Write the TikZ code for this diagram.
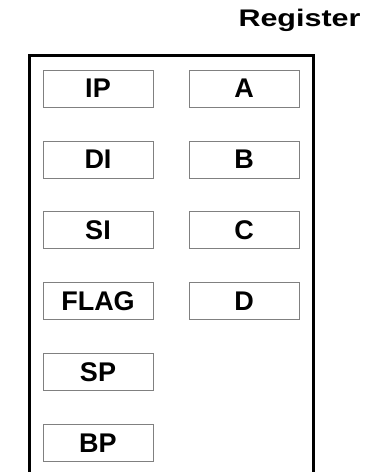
\documentclass[tikz,border=0pt]{standalone}
\usepackage{fontspec}
\setmainfont{Liberation Sans}
\usetikzlibrary{positioning}

\begin{document}
\begin{tikzpicture}[x=1pt, y=-1pt,
    reg/.style={draw=gray, line width=1pt, minimum width=110pt, minimum height=37pt,
        inner sep=0pt, font=\fontsize{27}{27}\selectfont\bfseries}]
    \useasboundingbox (0,0) rectangle (369,472);

    % Tiêu đề
    \node[font=\fontsize{24}{24}\selectfont\bfseries, xscale=1.27] (title) at (299.5,20.5) {Register};

    % Khung ngoài
    \draw[line width=3.5pt] (29.3,55.5) rectangle (313.3,474.5);

    % Cột trái
    \node[reg] (ip)   at (98,88.5)  {IP};
    \node[reg] (di)   at (98,159.5) {DI};
    \node[reg] (si)   at (98,230.3) {SI};
    \node[reg] (flag) at (98,301.2) {FLAG};
    \node[reg] (sp)   at (98,372)   {SP};
    \node[reg] (bp)   at (98,443)   {BP};

    % Cột phải
    \node[reg] (a) at (244,88.5)  {A};
    \node[reg] (b) at (244,159.5) {B};
    \node[reg] (c) at (244,230.3) {C};
    \node[reg] (d) at (244,301.2) {D};
\end{tikzpicture}
\end{document}
